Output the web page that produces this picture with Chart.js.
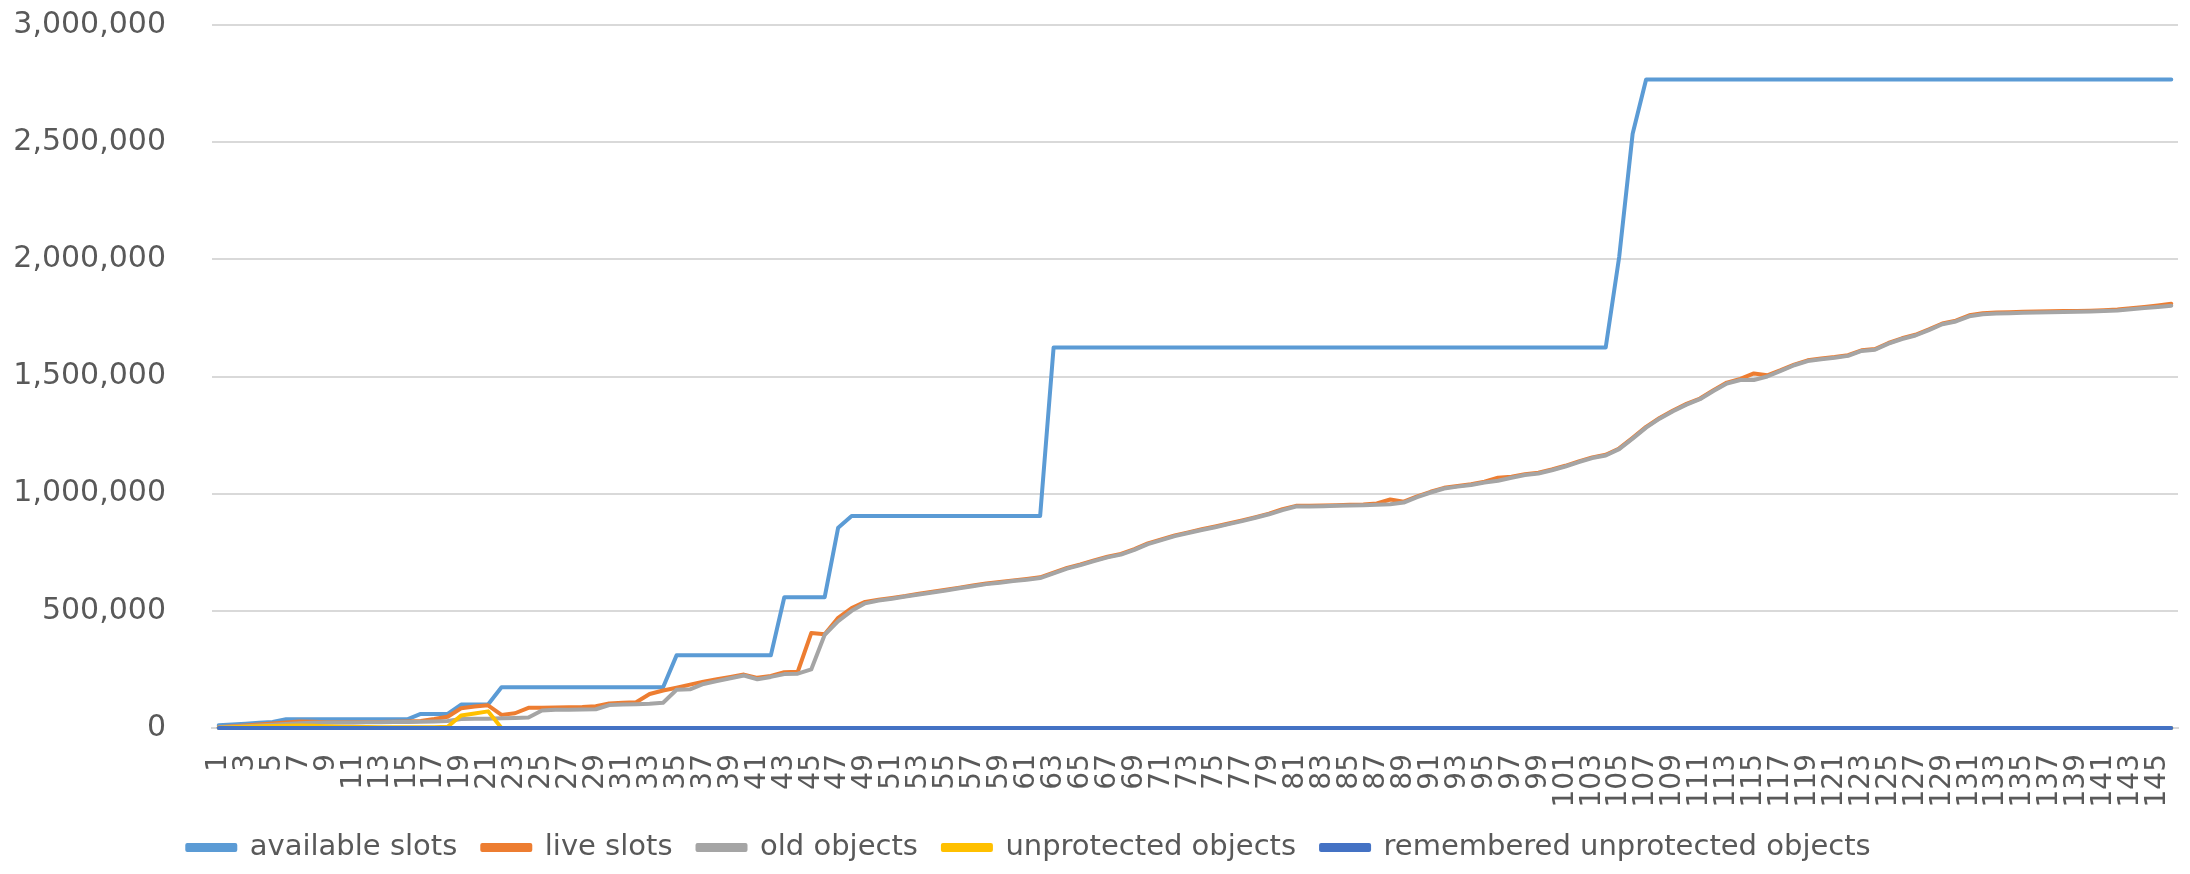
<!DOCTYPE html>
<html>
<head>
<meta charset="utf-8">
<title>slots and objects</title>
<script src="https://cdn.jsdelivr.net/npm/chart.js@4.4.1/dist/chart.umd.min.js"></script>
<style>
  html, body { margin: 0; padding: 0; background: #fff; }
  #wrap { width: 2190px; height: 874px; position: relative; }
</style>
</head>
<body>
<div id="wrap"><canvas id="lineChart"></canvas></div>
<script>
// categories 1..146
const steps = [
  1, 2, 3, 4, 5, 6, 7, 8, 9, 10,
  11, 12, 13, 14, 15, 16, 17, 18, 19, 20,
  21, 22, 23, 24, 25, 26, 27, 28, 29, 30,
  31, 32, 33, 34, 35, 36, 37, 38, 39, 40,
  41, 42, 43, 44, 45, 46, 47, 48, 49, 50,
  51, 52, 53, 54, 55, 56, 57, 58, 59, 60,
  61, 62, 63, 64, 65, 66, 67, 68, 69, 70,
  71, 72, 73, 74, 75, 76, 77, 78, 79, 80,
  81, 82, 83, 84, 85, 86, 87, 88, 89, 90,
  91, 92, 93, 94, 95, 96, 97, 98, 99, 100,
  101, 102, 103, 104, 105, 106, 107, 108, 109, 110,
  111, 112, 113, 114, 115, 116, 117, 118, 119, 120,
  121, 122, 123, 124, 125, 126, 127, 128, 129, 130,
  131, 132, 133, 134, 135, 136, 137, 138, 139, 140,
  141, 142, 143, 144, 145, 146
];

const availableSlots = [
  12000, 15000, 18000, 22000, 26000, 37000, 37000, 37000, 37000, 37000,
  37000, 37000, 37000, 37000, 37000, 60000, 60000, 60000, 100000, 100000,
  100000, 174000, 174000, 174000, 174000, 174000, 174000, 174000, 174000, 174000,
  174000, 174000, 174000, 174000, 310000, 310000, 310000, 310000, 310000, 310000,
  310000, 310000, 558000, 558000, 558000, 558000, 855000, 905000, 905000, 905000,
  905000, 905000, 905000, 905000, 905000, 905000, 905000, 905000, 905000, 905000,
  905000, 905000, 1624000, 1624000, 1624000, 1624000, 1624000, 1624000, 1624000, 1624000,
  1624000, 1624000, 1624000, 1624000, 1624000, 1624000, 1624000, 1624000, 1624000, 1624000,
  1624000, 1624000, 1624000, 1624000, 1624000, 1624000, 1624000, 1624000, 1624000, 1624000,
  1624000, 1624000, 1624000, 1624000, 1624000, 1624000, 1624000, 1624000, 1624000, 1624000,
  1624000, 1624000, 1624000, 1624000, 2010000, 2536000, 2767000, 2767000, 2767000, 2767000,
  2767000, 2767000, 2767000, 2767000, 2767000, 2767000, 2767000, 2767000, 2767000, 2767000,
  2767000, 2767000, 2767000, 2767000, 2767000, 2767000, 2767000, 2767000, 2767000, 2767000,
  2767000, 2767000, 2767000, 2767000, 2767000, 2767000, 2767000, 2767000, 2767000, 2767000,
  2767000, 2767000, 2767000, 2767000, 2767000, 2767000
];

const liveSlots = [
  3000, 7000, 11000, 15000, 19000, 24000, 28000, 27000, 25000, 25000,
  25000, 26000, 26000, 27000, 28000, 30000, 38000, 48000, 84000, 92000,
  97000, 56000, 63000, 86000, 86000, 88000, 89000, 90000, 93000, 105000,
  108000, 110000, 145000, 160000, 172000, 185000, 198000, 208000, 218000, 228000,
  214000, 222000, 238000, 240000, 405000, 400000, 470000, 512000, 538000, 547000,
  555000, 563000, 573000, 581000, 590000, 599000, 608000, 617000, 623000, 630000,
  636000, 643000, 663000, 683000, 698000, 715000, 731000, 743000, 763000, 788000,
  805000, 822000, 835000, 848000, 860000, 873000, 886000, 900000, 915000, 934000,
  948000, 948000, 949000, 951000, 953000, 954000, 958000, 975000, 966000, 988000,
  1008000, 1025000, 1033000, 1040000, 1051000, 1068000, 1072000, 1083000, 1089000, 1103000,
  1119000, 1138000, 1155000, 1166000, 1193000, 1238000, 1285000, 1323000, 1355000, 1383000,
  1406000, 1441000, 1474000, 1490000, 1513000, 1505000, 1527000, 1551000, 1569000, 1577000,
  1583000, 1591000, 1612000, 1617000, 1643000, 1663000, 1678000, 1701000, 1726000, 1738000,
  1761000, 1770000, 1773000, 1774000, 1776000, 1777000, 1778000, 1779000, 1780000, 1781000,
  1783000, 1786000, 1791000, 1797000, 1803000, 1810000
];

const oldObjects = [
  2000, 5000, 8000, 11000, 14000, 17000, 20000, 22000, 23000, 24000,
  24000, 25000, 25000, 26000, 26000, 27000, 28000, 30000, 38000, 39000,
  40000, 42000, 43000, 45000, 75000, 78000, 78000, 79000, 80000, 98000,
  100000, 101000, 103000, 108000, 163000, 165000, 188000, 200000, 212000, 224000,
  208000, 218000, 230000, 232000, 250000, 398000, 456000, 500000, 532000, 544000,
  552000, 561000, 570000, 578000, 587000, 596000, 605000, 614000, 620000, 627000,
  633000, 640000, 660000, 680000, 695000, 712000, 728000, 740000, 760000, 785000,
  802000, 819000, 832000, 845000, 857000, 870000, 883000, 897000, 912000, 930000,
  945000, 945000, 946000, 948000, 950000, 951000, 953000, 955000, 962000, 985000,
  1005000, 1022000, 1030000, 1037000, 1048000, 1055000, 1068000, 1080000, 1086000, 1100000,
  1116000, 1135000, 1152000, 1163000, 1190000, 1235000, 1282000, 1320000, 1352000, 1380000,
  1403000, 1438000, 1470000, 1485000, 1485000, 1500000, 1524000, 1548000, 1566000, 1574000,
  1580000, 1588000, 1609000, 1614000, 1640000, 1660000, 1675000, 1698000, 1723000, 1735000,
  1757000, 1766000, 1769000, 1770000, 1772000, 1773000, 1774000, 1775000, 1776000, 1777000,
  1779000, 1782000, 1787000, 1792000, 1797000, 1802000
];

const unprotectedObjects = [
  1000, 3000, 5000, 7000, 9000, 10000, 11000, 10000, 7000, 5000,
  4000, 4000, 3000, 3000, 3000, 3000, 3000, 5000, 53000, 62000,
  71000, 0, 0, 0, 0, 0, 0, 0, 0, 0,
  0, 0, 0, 0, 0, 0, 0, 0, 0, 0,
  0, 0, 0, 0, 0, 0, 0, 0, 0, 0,
  0, 0, 0, 0, 0, 0, 0, 0, 0, 0,
  0, 0, 0, 0, 0, 0, 0, 0, 0, 0,
  0, 0, 0, 0, 0, 0, 0, 0, 0, 0,
  0, 0, 0, 0, 0, 0, 0, 0, 0, 0,
  0, 0, 0, 0, 0, 0, 0, 0, 0, 0,
  0, 0, 0, 0, 0, 0, 0, 0, 0, 0,
  0, 0, 0, 0, 0, 0, 0, 0, 0, 0,
  0, 0, 0, 0, 0, 0, 0, 0, 0, 0,
  0, 0, 0, 0, 0, 0, 0, 0, 0, 0,
  0, 0, 0, 0, 0, 0
];

const rememberedUnprotected = [
  0, 0, 0, 0, 0, 0, 0, 0, 0, 0,
  0, 0, 0, 0, 0, 0, 0, 0, 0, 0,
  0, 0, 0, 0, 0, 0, 0, 0, 0, 0,
  0, 0, 0, 0, 0, 0, 0, 0, 0, 0,
  0, 0, 0, 0, 0, 0, 0, 0, 0, 0,
  0, 0, 0, 0, 0, 0, 0, 0, 0, 0,
  0, 0, 0, 0, 0, 0, 0, 0, 0, 0,
  0, 0, 0, 0, 0, 0, 0, 0, 0, 0,
  0, 0, 0, 0, 0, 0, 0, 0, 0, 0,
  0, 0, 0, 0, 0, 0, 0, 0, 0, 0,
  0, 0, 0, 0, 0, 0, 0, 0, 0, 0,
  0, 0, 0, 0, 0, 0, 0, 0, 0, 0,
  0, 0, 0, 0, 0, 0, 0, 0, 0, 0,
  0, 0, 0, 0, 0, 0, 0, 0, 0, 0,
  0, 0, 0, 0, 0, 0
];

// y axis ticks
const yTicks = [0, 500000, 1000000, 1500000, 2000000, 2500000, 3000000];

const fontFamily = '"DejaVu Sans", "Open Sans", sans-serif';
const textColor = '#595959';

function line(label, data, color, order) {
    return {
        label: label,
        data: data,
        borderColor: color,
        backgroundColor: color,
        borderWidth: 4,
        pointRadius: 0,
        pointHoverRadius: 0,
        tension: 0,
        borderJoinStyle: 'round',
        borderCapStyle: 'round',
        clip: false,
        order: order
    };
}

// nudge the legend row a bit to the left, like the original
const legendShift = {
    id: 'legendShift',
    afterLayout(chart) {
        if (chart.legend) {
            chart.legend.left -= 60;
            chart.legend.right -= 60;
        }
    }
};

const ctx = document.getElementById('lineChart').getContext('2d');

new Chart(ctx, {
    type: 'line',
    data: {
        labels: steps,
        datasets: [
            line('available slots', availableSlots, '#5B9BD5', 5),
            line('live slots', liveSlots, '#ED7D31', 4),
            line('old objects', oldObjects, '#A5A5A5', 3),
            line('unprotected objects', unprotectedObjects, '#FFC000', 2),
            line('remembered unprotected objects', rememberedUnprotected, '#4472C4', 1)
        ]
    },
    options: {
        responsive: true,
        maintainAspectRatio: false,
        animation: false,
        layout: { padding: { top: 25, right: 12, bottom: 2, left: 0 } },
        plugins: {
            tooltip: { enabled: false },
            legend: {
                position: 'bottom',
                labels: {
                    boxWidth: 48,
                    boxHeight: 5,
                    padding: 25,
                    color: textColor,
                    font: { family: fontFamily, size: 29 },
                    sort: (a, b) => a.datasetIndex - b.datasetIndex
                }
            }
        },
        scales: {
            x: {
                offset: true,
                grid: { display: false, drawTicks: false },
                border: { display: true, color: '#D9D9D9', width: 2 },
                ticks: {
                    autoSkip: false,
                    minRotation: 90,
                    maxRotation: 90,
                    padding: 26,
                    color: textColor,
                    font: { family: fontFamily, size: 28 },
                    callback: function (value, index) {
                        return index % 2 === 0 ? steps[index] : '';
                    }
                },
                afterFit: function (axis) {
                    axis.height = 80;
                    axis.paddingLeft = 0;
                    axis.paddingRight = 0;
                }
            },
            y: {
                min: 0,
                max: 3000000,
                grid: { color: '#D9D9D9', lineWidth: 2, drawTicks: false },
                border: { display: false },
                afterBuildTicks: function (axis) {
                    axis.ticks = yTicks.map(v => ({ value: v }));
                },
                ticks: {
                    padding: 46,
                    color: textColor,
                    font: { family: fontFamily, size: 30 },
                    callback: v => v.toLocaleString('en-US')
                },
                afterFit: function (axis) {
                    axis.width = 212;
                    axis.paddingTop = 0;
                    axis.paddingBottom = 0;
                }
            }
        }
    },
    plugins: [legendShift]
});
</script>
</body>
</html>
